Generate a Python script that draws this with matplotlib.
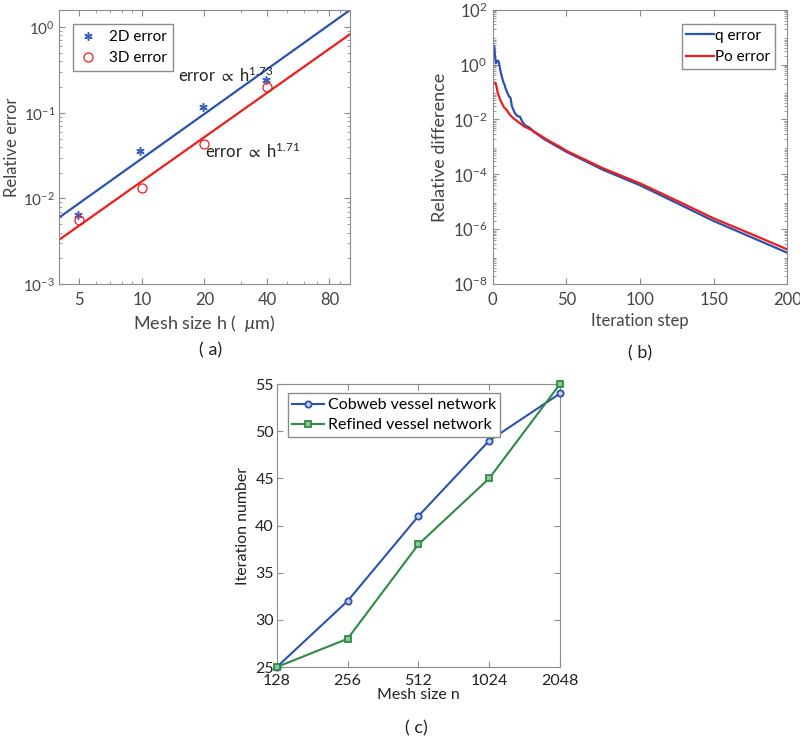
import numpy as np
import matplotlib.pyplot as plt
from matplotlib.ticker import LogLocator, FixedLocator, NullFormatter

plt.rcParams['font.family'] = ['Lato', 'DejaVu Sans']
plt.rcParams['mathtext.fontset'] = 'custom'
plt.rcParams['mathtext.rm'] = 'Lato'
plt.rcParams['mathtext.it'] = 'Lato:italic'
plt.rcParams['mathtext.fallback'] = 'stixsans'

# (a) convergence in mesh size
h_2d = [4.9, 9.8, 19.6, 39.4]
err_2d = [0.0065, 0.036, 0.118, 0.24]
h_3d = [5.0, 10.0, 20.0, 40.0]
err_3d = [0.0056, 0.0132, 0.043, 0.20]
fit_h = [4.0, 100.0]
fit_2d = [0.006, 1.57]
fit_3d = [0.0033, 0.82]

# (b) relative difference vs iteration
q_step = [1, 2, 3, 4, 5, 7, 8, 9, 11, 12, 13, 15, 16.5, 18.5, 20, 22, 24, 26, 28,
          35, 50, 75, 100, 125, 150, 175, 200]
q_err = [4.5, 1.1, 1.4, 1.3, 0.65, 0.24, 0.18, 0.12, 0.069, 0.062, 0.03, 0.017, 0.0135,
         0.0125, 0.0084, 0.006, 0.0054, 0.0045, 0.0035,
         0.0019, 6.6e-4, 1.45e-4, 4.0e-5, 9.0e-6, 2.0e-6, 5.3e-7, 1.4e-7]
po_step = [1, 2, 3.4, 5, 7.5, 9.5, 11.5, 14, 17, 21.5, 26, 30.5, 37, 46,
           50, 75, 100, 125, 150, 175, 200]
po_err = [0.22, 0.21, 0.091, 0.052, 0.028, 0.022, 0.015, 0.011, 0.0083, 0.0055, 0.0042,
          0.003, 0.0018, 0.00098, 7.2e-4, 1.65e-4, 4.7e-5, 1.1e-5, 2.5e-6, 6.9e-7, 1.85e-7]

# (c) iteration count vs mesh size
mesh_n = [128, 256, 512, 1024, 2048]
cobweb = [25, 32, 41, 49, 54]
refined = [25, 28, 38, 45, 55]

blue = '#2a52b0'
red = '#f01c1c'
green = '#2e8b45'
axis_col = '#8c8c8c'
text_col = '#444444'


def style(ax, size=12):
    for s in ax.spines.values():
        s.set_color(axis_col)
        s.set_linewidth(0.8)
    ax.tick_params(which='both', direction='in', top=True, right=True,
                   colors=axis_col, labelcolor=text_col, labelsize=size, pad=6)
    ax.tick_params(which='major', length=4)
    ax.tick_params(which='minor', length=2)


fig = plt.figure(figsize=(8, 7.4), dpi=100)

# ---- (a)
ax1 = fig.add_axes([0.074, 0.616, 0.363, 0.371])
ax1.loglog(fit_h, fit_2d, color=blue, lw=1.6)
ax1.loglog(fit_h, fit_3d, color=red, lw=1.6)
ax1.loglog(h_2d, err_2d, linestyle='none', marker=(6, 2, 0), color='#3a5fc0', ms=6,
           mew=1.1, label='2D error')
ax1.loglog(h_3d, err_3d, 'o', mfc='none', mec=red, ms=6.5, mew=0.9, label='3D error')
ax1.set_xlim(4, 100)
ax1.set_ylim(1e-3, 1.6)
ax1.xaxis.set_major_locator(FixedLocator([5, 10, 20, 40, 80]))
ax1.set_xticklabels(['5', '10', '20', '40', '80'])
ax1.xaxis.set_minor_formatter(NullFormatter())
ax1.yaxis.set_major_locator(LogLocator(base=10, numticks=10))
style(ax1)
ax1.tick_params(axis='y', pad=3, labelsize=11)
ax1.text(15.0, 0.23, r'error $\propto$ h$^{1.73}$', fontsize=12, color='#222222', va='baseline')
ax1.text(20.2, 0.030, r'error $\propto$ h$^{1.71}$', fontsize=12, color='#222222', va='baseline')
ax1.set_xlabel(r'Mesh size h (  $\mu$m)', fontsize=13, color=text_col, labelpad=3)
ax1.set_ylabel('Relative error', fontsize=12, color=text_col)
ax1.yaxis.set_label_coords(-0.134, 0.5)
leg = ax1.legend(loc='upper left', fontsize=11, frameon=True, fancybox=False,
                 handlelength=1.2, handletextpad=0.8, borderpad=0.4, labelspacing=0.45,
                 bbox_to_anchor=(0.02, 0.975), framealpha=1)
leg.get_frame().set_edgecolor(axis_col)
fig.text(0.263, 0.527, '( a)', ha='center', va='center', fontsize=13, color='#222222')

# ---- (b)
ax2 = fig.add_axes([0.616, 0.616, 0.368, 0.371])
ax2.semilogy(q_step, q_err, color=blue, lw=1.6, label='q error')
ax2.semilogy(po_step, po_err, color=red, lw=1.6, label='Po error')
ax2.set_xlim(0, 200)
ax2.set_ylim(1e-8, 1e2)
ax2.set_xticks([0, 50, 100, 150, 200])
ax2.yaxis.set_major_locator(FixedLocator([1e-8, 1e-6, 1e-4, 1e-2, 1e0, 1e2]))
ax2.yaxis.set_minor_locator(LogLocator(base=10, subs=np.arange(2, 10), numticks=20))
ax2.yaxis.set_minor_formatter(NullFormatter())
style(ax2)
ax2.tick_params(axis='y', pad=4)
ax2.set_xlabel('Iteration step', fontsize=12, color=text_col, labelpad=3)
ax2.set_ylabel('Relative difference', fontsize=13, color=text_col, labelpad=3)
leg = ax2.legend(loc='upper right', fontsize=11, frameon=True, fancybox=False,
                 handlelength=1.8, handletextpad=0.1, borderpad=0.3, labelspacing=0.5,
                 bbox_to_anchor=(0.985, 0.975), framealpha=1)
leg.get_frame().set_edgecolor(axis_col)
fig.text(0.8, 0.522, '( b)', ha='center', va='center', fontsize=13, color='#222222')

# ---- (c)
ax3 = fig.add_axes([0.346, 0.0986, 0.354, 0.3824])
ax3.plot(mesh_n, cobweb, '-o', color=blue, lw=1.5, ms=4.5, mfc='#c8d2ec', mew=1.3,
         label='Cobweb vessel network', clip_on=False, zorder=3)
ax3.plot(mesh_n, refined, '-s', color=green, lw=1.5, ms=4.5, mfc='#8fc79a', mew=1.3,
         label='Refined vessel network', clip_on=False, zorder=3)
ax3.set_xscale('log', base=2)
ax3.set_xlim(128, 2048)
ax3.set_ylim(25, 55)
ax3.xaxis.set_major_locator(FixedLocator(mesh_n))
ax3.set_xticklabels([str(n) for n in mesh_n])
ax3.xaxis.set_minor_locator(FixedLocator([]))
ax3.set_yticks([25, 30, 35, 40, 45, 50, 55])
style(ax3, 11.5)
ax3.tick_params(labelcolor='#222222')
ax3.tick_params(axis='x', pad=5)
ax3.tick_params(axis='y', pad=2)
ax3.set_xlabel('Mesh size n', fontsize=11.5, color='#222222', labelpad=0)
ax3.set_ylabel('Iteration number', fontsize=11.5, color='#222222', labelpad=4)
leg = ax3.legend(loc='upper left', fontsize=11.5, frameon=True, fancybox=False,
                 handlelength=2.0, handletextpad=0.2, borderpad=0.3, labelspacing=0.35,
                 bbox_to_anchor=(0.01, 0.995), framealpha=1)
leg.get_frame().set_edgecolor(axis_col)
fig.text(0.521, 0.016, '( c)', ha='center', va='center', fontsize=13, color='#222222')

fig.savefig('out.png', dpi=100)
